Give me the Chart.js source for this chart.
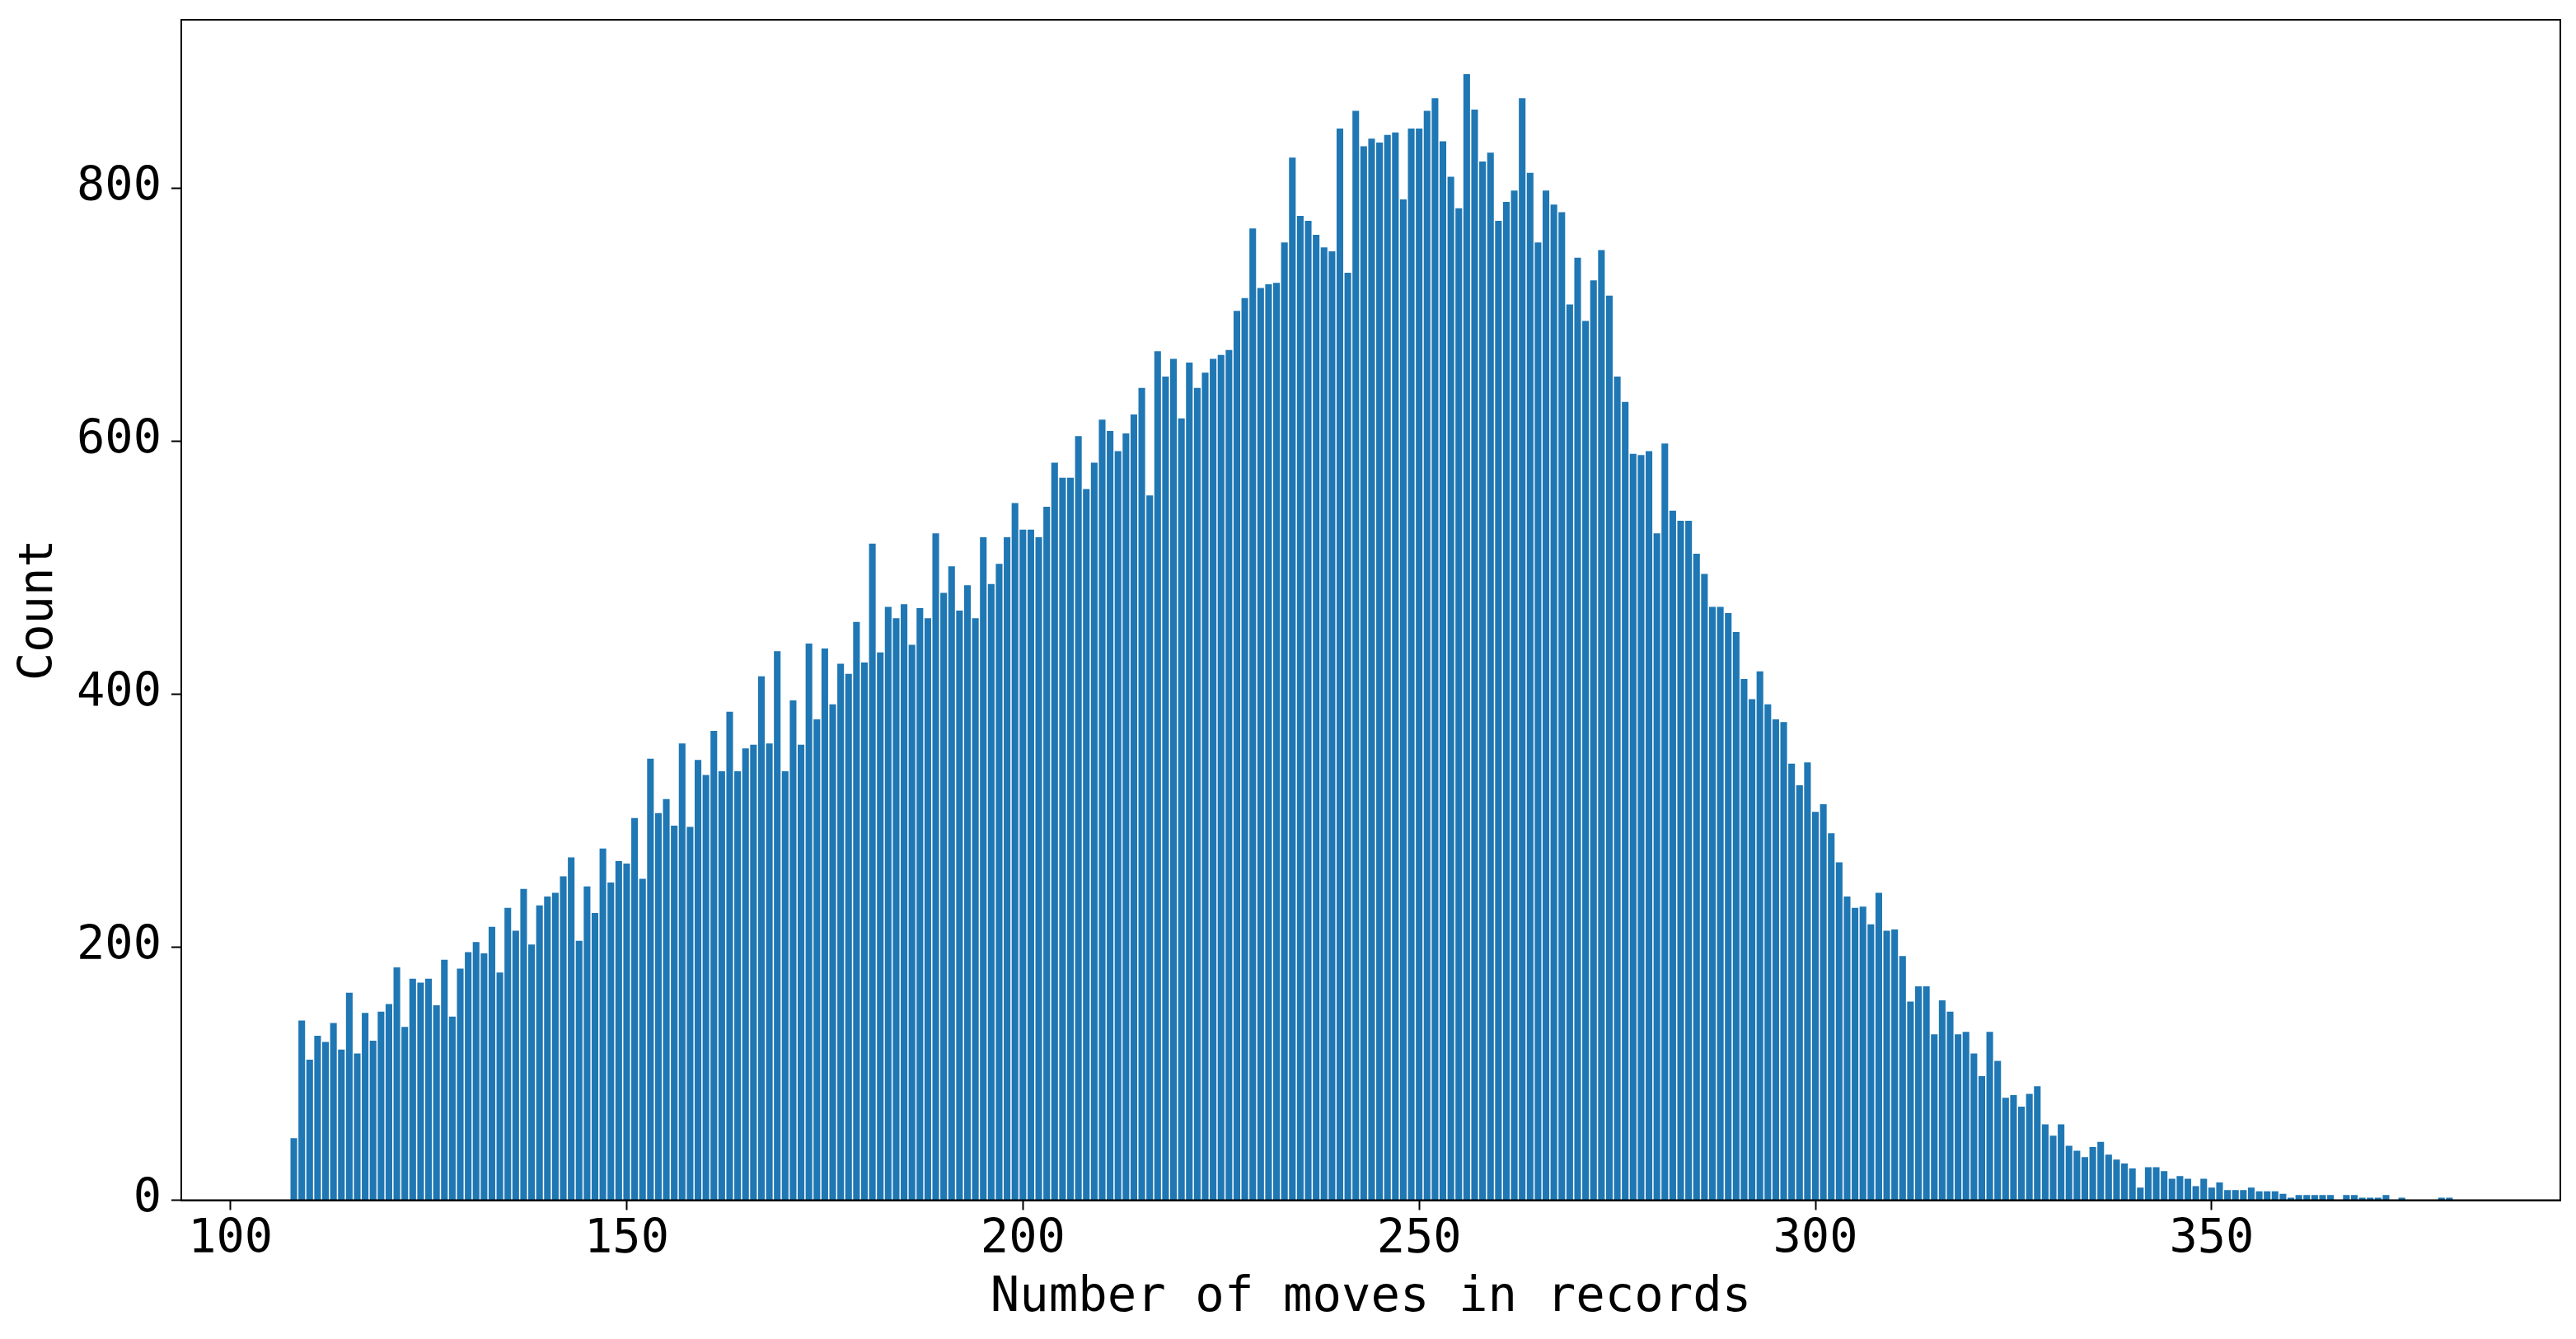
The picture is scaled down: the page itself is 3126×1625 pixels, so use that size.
<!DOCTYPE html>
<html>
<head>
<meta charset="utf-8">
<script src="https://cdn.jsdelivr.net/npm/chart.js@4.4.1/dist/chart.umd.min.js"></script>
<style>
  html, body { margin: 0; padding: 0; background: #ffffff; }
  #wrap { width: 3126px; height: 1625px; }
  canvas { display: block; }
</style>
</head>
<body>
<div id="wrap"><canvas id="c" width="3126" height="1625"></canvas></div>
<script>
// Number of moves in a record (one bar per value)
const moves = [
  108,109,110,111,112,113,114,115,116,117,118,119,120,121,122,123,124,125,126,127,
  128,129,130,131,132,133,134,135,136,137,138,139,140,141,142,143,144,145,146,147,
  148,149,150,151,152,153,154,155,156,157,158,159,160,161,162,163,164,165,166,167,
  168,169,170,171,172,173,174,175,176,177,178,179,180,181,182,183,184,185,186,187,
  188,189,190,191,192,193,194,195,196,197,198,199,200,201,202,203,204,205,206,207,
  208,209,210,211,212,213,214,215,216,217,218,219,220,221,222,223,224,225,226,227,
  228,229,230,231,232,233,234,235,236,237,238,239,240,241,242,243,244,245,246,247,
  248,249,250,251,252,253,254,255,256,257,258,259,260,261,262,263,264,265,266,267,
  268,269,270,271,272,273,274,275,276,277,278,279,280,281,282,283,284,285,286,287,
  288,289,290,291,292,293,294,295,296,297,298,299,300,301,302,303,304,305,306,307,
  308,309,310,311,312,313,314,315,316,317,318,319,320,321,322,323,324,325,326,327,
  328,329,330,331,332,333,334,335,336,337,338,339,340,341,342,343,344,345,346,347,
  348,349,350,351,352,353,354,355,356,357,358,359,360,361,362,363,364,365,366,367,
  368,369,370,371,372,373,374,375,376,377,378,379,380
];

// Count of records for each number of moves
const counts = [
  49,142,111,130,125,140,119,164,116,148,126,149,155,184,137,175,172,175,154,190,
  145,183,196,204,195,216,180,231,213,246,202,233,240,243,256,271,205,248,227,278,
  251,268,266,302,254,349,306,317,296,361,295,348,336,371,339,386,339,357,360,414,
  361,434,339,395,360,440,380,436,392,424,416,457,425,519,433,469,460,471,439,468,
  460,527,480,501,466,486,460,524,487,503,524,551,530,530,524,548,583,571,571,604,
  562,583,617,608,592,606,621,642,557,671,651,665,618,662,642,654,665,668,672,703,
  713,768,721,724,725,757,824,778,774,763,753,750,847,733,861,833,839,836,842,844,
  791,847,847,861,871,837,809,784,890,862,821,828,774,789,798,871,812,757,798,787,
  781,708,745,695,727,751,715,651,631,590,589,592,527,598,545,537,537,511,495,469,
  469,464,449,412,396,418,392,380,378,345,328,346,307,313,290,267,240,231,232,218,
  243,213,214,193,157,169,169,131,158,149,131,133,116,98,133,110,81,83,74,84,
  90,60,51,60,43,39,34,42,46,36,32,29,25,10,26,26,23,17,19,17,
  11,17,10,14,8,8,8,10,7,7,7,5,2,4,4,4,4,4,0,4,
  4,2,2,2,4,0,2,0,0,0,0,2,2
];

const xTickValues = [100, 150, 200, 250, 300, 350];
const yTickValues = [0, 200, 400, 600, 800];
const xTitle = 'Number of moves in records';
const yTitle = 'Count';

const FONT = 'DejaVu Sans Mono';
const PLOT = { left: 220, right: 3107, top: 24, bottom: 1456.5 };

const points = moves.map((m, i) => ({ x: m, y: counts[i] }));

const framePlugin = {
  id: 'frame',
  afterDraw(chart) {
    const a = chart.chartArea;
    const ctx = chart.ctx;
    ctx.save();
    ctx.strokeStyle = '#000000';
    ctx.lineWidth = 2;
    ctx.strokeRect(a.left, a.top, a.right - a.left, a.bottom - a.top);
    ctx.restore();
  }
};

function noScalePadding(s) {
  s.paddingTop = 0;
  s.paddingBottom = 0;
  s.paddingLeft = 0;
  s.paddingRight = 0;
}

new Chart(document.getElementById('c'), {
  type: 'bar',
  data: {
    datasets: [{
      data: points,
      backgroundColor: '#1f77b4',
      borderWidth: 0,
      barPercentage: 0.84,
      categoryPercentage: 1.0
    }]
  },
  options: {
    responsive: false,
    maintainAspectRatio: false,
    devicePixelRatio: 1,
    animation: false,
    layout: {
      padding: { left: 0, right: 3126 - PLOT.right, top: PLOT.top, bottom: 0 }
    },
    plugins: {
      legend: { display: false },
      tooltip: { enabled: false },
      title: { display: false }
    },
    scales: {
      x: {
        type: 'linear',
        min: 93.8,
        max: 394.0,
        offset: false,
        afterBuildTicks: (s) => { s.ticks = xTickValues.map(v => ({ value: v })); },
        afterFit: (s) => { s.height = 1625 - PLOT.bottom; noScalePadding(s); },
        grid: {
          offset: false,
          drawOnChartArea: false,
          drawTicks: true,
          tickLength: 12,
          tickWidth: 2,
          tickColor: '#000000'
        },
        border: { display: true, color: '#000000', width: 2 },
        ticks: {
          color: '#000000',
          font: { family: FONT, size: 57 },
          padding: 2,
          maxRotation: 0,
          autoSkip: false,
          callback: (v) => String(v)
        },
        title: {
          display: true,
          text: xTitle,
          color: '#000000',
          font: { family: FONT, size: 59 },
          padding: { top: 0, bottom: 14 }
        }
      },
      y: {
        type: 'linear',
        min: 0,
        max: 933,
        afterBuildTicks: (s) => { s.ticks = yTickValues.map(v => ({ value: v })); },
        afterFit: (s) => { s.width = PLOT.left; noScalePadding(s); },
        grid: {
          offset: false,
          drawOnChartArea: false,
          drawTicks: true,
          tickLength: 12,
          tickWidth: 2,
          tickColor: '#000000'
        },
        border: { display: true, color: '#000000', width: 2 },
        ticks: {
          color: '#000000',
          font: { family: FONT, size: 57 },
          padding: 12,
          autoSkip: false,
          callback: (v) => String(v)
        },
        title: {
          display: true,
          text: yTitle,
          color: '#000000',
          font: { family: FONT, size: 57 },
          padding: { top: 14, bottom: 0 }
        }
      }
    }
  },
  plugins: [framePlugin]
});
</script>
</body>
</html>
